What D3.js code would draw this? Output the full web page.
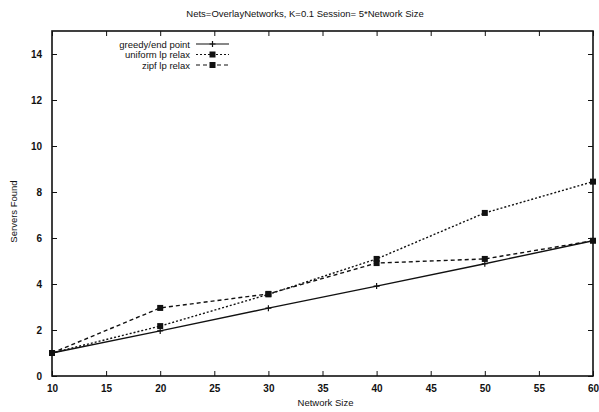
<!DOCTYPE html>
<html>
<head>
<meta charset="utf-8">
<script src="https://cdn.jsdelivr.net/npm/d3@7"></script>
<style>
  body { margin: 0; background: #fff; }
  text { font-family: "Liberation Sans", Arial, sans-serif; fill: #111; }
</style>
</head>
<body>
<div id="chart"></div>
<script>
// data
var sizes = [10, 20, 30, 40, 50, 60];
var greedy = [1, 1.96, 2.95, 3.91, 4.88, 5.88];
var uniformLp = [1, 2.17, 3.55, 5.09, 7.09, 8.45];
var zipfLp = [1, 2.96, 3.57, 4.91, 5.09, 5.88];
var seriesNames = ["greedy/end point", "uniform lp relax", "zipf lp relax"];
var xTicks = [10, 15, 20, 25, 30, 35, 40, 45, 50, 55, 60];
var yTicks = [0, 2, 4, 6, 8, 10, 12, 14];

var W = 599, H = 412;
var margin = {left: 52, right: 6, top: 31, bottom: 36};
var width = W - margin.left - margin.right;
var height = H - margin.top - margin.bottom;

var x = d3.scaleLinear().domain([10, 60]).range([0, width]);
var y = d3.scaleLinear().domain([0, 15]).range([height, 0]);

var svg = d3.select("#chart").append("svg")
  .attr("width", W).attr("height", H);

svg.append("text")
  .attr("x", 305).attr("y", 17)
  .attr("text-anchor", "middle")
  .style("font-size", "9.5px")
  .text("Nets=OverlayNetworks, K=0.1 Session= 5*Network Size");

var g = svg.append("g")
  .attr("transform", "translate(" + margin.left + "," + margin.top + ")");

// frame
g.append("rect")
  .attr("width", width).attr("height", height)
  .attr("fill", "none").attr("stroke", "#111").attr("stroke-width", 1.6);

// inner ticks, mirrored like gnuplot
var bottomAxis = d3.axisBottom(x).tickValues(xTicks).tickSize(-5).tickPadding(9);
var topAxis = d3.axisTop(x).tickValues(xTicks).tickSize(-5).tickFormat("");
var leftAxis = d3.axisLeft(y).tickValues(yTicks).tickSize(-5).tickPadding(10);
var rightAxis = d3.axisRight(y).tickValues(yTicks).tickSize(-5).tickFormat("");

function styleAxis(sel) {
  sel.select(".domain").remove();
  sel.selectAll(".tick line").attr("stroke", "#111").attr("stroke-width", 1);
  sel.selectAll(".tick text").style("font-size", "10px").style("font-weight", "bold")
    .style("font-family", "'Liberation Sans', Arial, sans-serif").attr("fill", "#111");
}

g.append("g").attr("transform", "translate(0," + height + ")").call(bottomAxis).call(styleAxis);
g.append("g").call(topAxis).call(styleAxis);
g.append("g").call(leftAxis).call(styleAxis);
g.append("g").attr("transform", "translate(" + width + ",0)").call(rightAxis).call(styleAxis);

svg.append("text")
  .attr("x", margin.left + width / 2 + 3).attr("y", 406)
  .attr("text-anchor", "middle")
  .style("font-size", "9.5px")
  .text("Network Size");

svg.append("text")
  .attr("transform", "translate(17," + (margin.top + height / 2 + 8) + ") rotate(-90)")
  .attr("text-anchor", "middle")
  .style("font-size", "9.5px")
  .text("Servers Found");

var line = d3.line()
  .x(function (d, i) { return x(sizes[i]); })
  .y(function (d) { return y(d); });

var series = [
  {name: seriesNames[0], values: greedy, dash: null, mark: "plus"},
  {name: seriesNames[1], values: uniformLp, dash: "2,2", mark: "square"},
  {name: seriesNames[2], values: zipfLp, dash: "4,3", mark: "square"}
];

function drawMark(sel, type, cx, cy) {
  if (type === "plus") {
    sel.append("path")
      .attr("d", "M" + (cx - 3) + "," + cy + "h6M" + cx + "," + (cy - 3) + "v6")
      .attr("stroke", "#111").attr("stroke-width", 1.2);
  } else {
    sel.append("rect")
      .attr("x", cx - 3).attr("y", cy - 3).attr("width", 6).attr("height", 6)
      .attr("fill", "#111");
  }
}

series.forEach(function (s) {
  g.append("path")
    .datum(s.values)
    .attr("d", line)
    .attr("fill", "none")
    .attr("stroke", "#111")
    .attr("stroke-width", 1.4)
    .attr("stroke-dasharray", s.dash);
  s.values.forEach(function (v, i) {
    drawMark(g, s.mark, x(sizes[i]), y(v));
  });
});
// origin dot
g.append("circle").attr("cx", x(10)).attr("cy", y(1)).attr("r", 3).attr("fill", "#111");

// legend
var leg = svg.append("g");
series.forEach(function (s, i) {
  var ly = 44 + i * 10.5;
  leg.append("text")
    .attr("x", 190).attr("y", ly + 3.5)
    .attr("text-anchor", "end")
    .style("font-size", "9.5px")
    .text(s.name);
  leg.append("line")
    .attr("x1", 196).attr("x2", 229).attr("y1", ly).attr("y2", ly)
    .attr("stroke", "#111").attr("stroke-width", 1.2)
    .attr("stroke-dasharray", s.dash);
  drawMark(leg, s.mark, 212.5, ly);
});
</script>
</body>
</html>
